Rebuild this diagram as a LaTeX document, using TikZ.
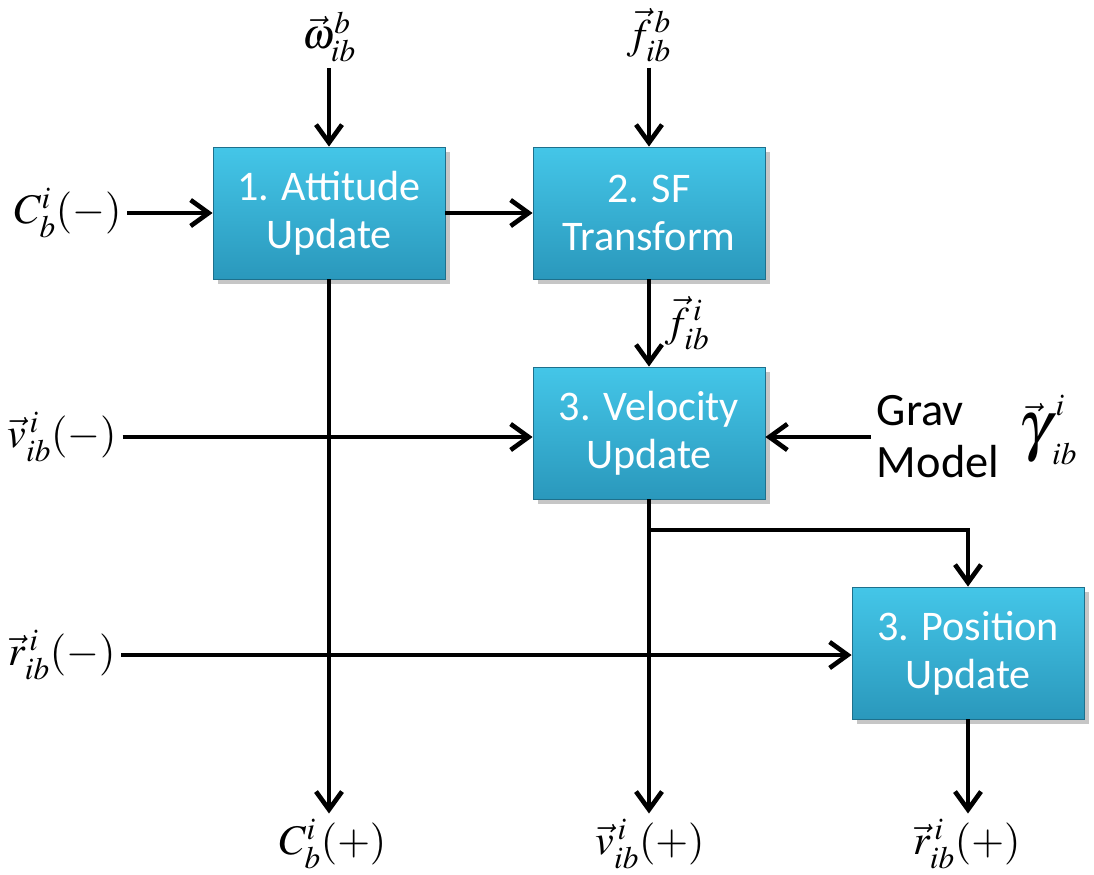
\documentclass[tikz,border=0pt]{standalone}
\usepackage{mathptmx}
\usepackage[no-math]{fontspec}
\setmainfont{Carlito}
\usetikzlibrary{arrows.meta,shadows}
\definecolor{blocktop}{RGB}{68,198,232}
\definecolor{blockbot}{RGB}{42,152,188}
\definecolor{blockedge}{RGB}{30,112,140}
\begin{document}
\begin{tikzpicture}[x=0.25mm,y=-0.25mm,
 block/.style={rectangle,draw=blockedge,line width=0.6pt,top color=blocktop,bottom color=blockbot,
   minimum width=58mm,minimum height=33mm,text=white,align=center,
   font=\fontsize{30}{34}\selectfont,
   drop shadow={opacity=0.45,shadow xshift=1.2mm,shadow yshift=-1.2mm}},
 sig/.style={inner sep=4pt,font=\fontsize{30}{34}\selectfont},
 flow/.style={line width=3.3pt,-{Straight Barb[length=4.5mm,width=6.5mm]}}]
 \useasboundingbox (0,0) rectangle (1094,874);
 \node[block] (att) at (329,213) {1. Attitude\\Update};
 \node[block] (sf) at (649,213) {2. SF\\Transform};
 \node[block] (vel) at (649,433) {3. Velocity\\Update};
 \node[block] (pos) at (968,653) {3. Position\\Update};
 \node[sig] (om) at (329,37) {$\vec{\omega}_{ib}^{b}$};
 \node[sig] (fb) at (649,35) {$\vec{f}_{ib}^{\,b}$};
 \node[sig] (cbm) at (68,213) {$C_b^i(-)$};
 \node[sig] (vm) at (62,437) {$\vec{v}_{ib}^{\,i}(-)$};
 \node[sig] (rm) at (62,655) {$\vec{r}_{ib}^{\,i}(-)$};
 \node[sig,align=left,font=\fontsize{33}{37}\selectfont] (grav) at (938,437) {Grav\\Model};
 \node[sig] (gam) at (1048,430) {$\vec{\scalebox{1.6}{$\gamma$}}_{ib}^{\,i}$};
 \node[sig] (cbp) at (333,844) {$C_b^i(+)$};
 \node[sig] (vp) at (650,844) {$\vec{v}_{ib}^{\,i}(+)$};
 \node[sig] (rp) at (967,844) {$\vec{r}_{ib}^{\,i}(+)$};
 \coordinate (br) at (649,530);
 \draw[flow] (om) -- (att);
 \draw[flow] (fb) -- (sf);
 \draw[flow] (cbm) -- (att);
 \draw[flow] (att) -- (sf);
 \draw[flow] (sf) -- node[sig,right=6pt] {$\vec{f}_{ib}^{\,i}$} (vel);
 \draw[flow] (vm) -- (vm -| vel.west);
 \draw[flow] (grav) -- (grav -| vel.east);
 \draw[flow] (rm) -- (rm -| pos.west);
 \draw[flow] (att) -- (att |- cbp.north);
 \draw[flow] (vel) -- (vel |- vp.north);
 \draw[flow] (pos) -- (pos |- rp.north);
 \draw[flow] (br) -| (pos);
\end{tikzpicture}
\end{document}
